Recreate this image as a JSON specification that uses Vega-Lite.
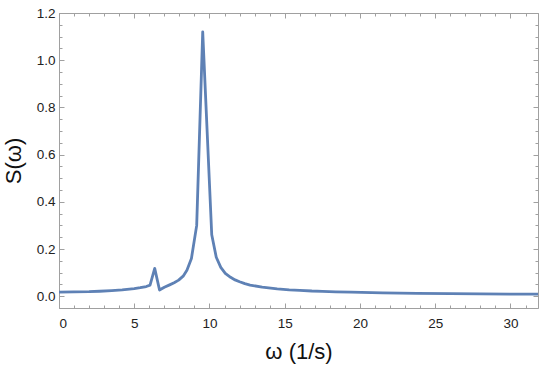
{
  "$schema": "https://vega.github.io/schema/vega-lite/v6.json",
  "width": 479,
  "height": 295,
  "autosize": {"type": "none"},
  "padding": {"left": 59, "top": 13, "right": 12, "bottom": 67},
  "background": "white",
  "config": {
    "view": {"stroke": null},
    "axis": {
      "grid": false,
      "domainColor": "#a0a0a0",
      "tickColor": "#a0a0a0",
      "domainWidth": 1,
      "tickWidth": 1,
      "labelFont": "Liberation Sans",
      "labelFontSize": 13.5,
      "labelColor": "#222222",
      "titleFont": "Liberation Sans",
      "titleFontSize": 22,
      "titleFontWeight": "normal",
      "titleColor": "#111111"
    }
  },
  "data": {
    "values": [
      {"w": 0, "S": 0.017},
      {"w": 1, "S": 0.018},
      {"w": 2, "S": 0.019},
      {"w": 2.7, "S": 0.021},
      {"w": 3.5, "S": 0.024},
      {"w": 4.2, "S": 0.027},
      {"w": 5, "S": 0.032},
      {"w": 5.4, "S": 0.036},
      {"w": 5.8, "S": 0.041},
      {"w": 6.05, "S": 0.047},
      {"w": 6.36, "S": 0.118},
      {"w": 6.68, "S": 0.026},
      {"w": 7.0, "S": 0.038},
      {"w": 7.35, "S": 0.048},
      {"w": 7.65, "S": 0.057},
      {"w": 7.95, "S": 0.068},
      {"w": 8.25, "S": 0.085},
      {"w": 8.5, "S": 0.11},
      {"w": 8.8, "S": 0.16},
      {"w": 9.15, "S": 0.3},
      {"w": 9.55, "S": 1.12},
      {"w": 10.15, "S": 0.26},
      {"w": 10.45, "S": 0.165},
      {"w": 10.75, "S": 0.122},
      {"w": 11.05, "S": 0.097},
      {"w": 11.4, "S": 0.08},
      {"w": 11.7, "S": 0.069},
      {"w": 12.0, "S": 0.061},
      {"w": 12.35, "S": 0.053},
      {"w": 12.7, "S": 0.047},
      {"w": 13.5, "S": 0.038},
      {"w": 14.5, "S": 0.031},
      {"w": 15.3, "S": 0.027},
      {"w": 16, "S": 0.025},
      {"w": 16.8, "S": 0.022},
      {"w": 17.5, "S": 0.0205},
      {"w": 18.4, "S": 0.0185},
      {"w": 19.4, "S": 0.017},
      {"w": 21.5, "S": 0.014},
      {"w": 23.8, "S": 0.012},
      {"w": 26, "S": 0.0105},
      {"w": 28, "S": 0.0095},
      {"w": 30, "S": 0.009},
      {"w": 31.83, "S": 0.0085}
    ]
  },
  "encoding": {
    "x": {"field": "w", "type": "quantitative", "scale": {"domain": [0, 31.83], "nice": false, "zero": false}},
    "y": {"field": "S", "type": "quantitative", "scale": {"domain": [-0.05, 1.2], "nice": false, "zero": false}}
  },
  "layer": [
    {
      "mark": {"type": "line", "opacity": 0},
      "encoding": {
        "x": {"field": "w", "type": "quantitative", "axis": {"orient": "bottom", "values": [0,1,2,3,4,5,6,7,8,9,10,11,12,13,14,15,16,17,18,19,20,21,22,23,24,25,26,27,28,29,30,31], "labels": false, "title": null, "tickSize": -3, "domain": false}},
        "y": {"field": "S", "type": "quantitative", "axis": {"orient": "left", "values": [-0.05,0,0.05,0.1,0.15,0.2,0.25,0.3,0.35,0.4,0.45,0.5,0.55,0.6,0.65,0.7,0.75,0.8,0.85,0.9,0.95,1.0,1.05,1.1,1.15,1.2], "labels": false, "title": null, "tickSize": -3, "domain": false}}
      }
    },
    {
      "mark": {"type": "line", "opacity": 0},
      "encoding": {
        "x": {"field": "w", "type": "quantitative", "axis": {"orient": "top", "values": [0,1,2,3,4,5,6,7,8,9,10,11,12,13,14,15,16,17,18,19,20,21,22,23,24,25,26,27,28,29,30,31], "labels": false, "title": null, "tickSize": -3, "domain": true}},
        "y": {"field": "S", "type": "quantitative", "axis": {"orient": "right", "values": [-0.05,0,0.05,0.1,0.15,0.2,0.25,0.3,0.35,0.4,0.45,0.5,0.55,0.6,0.65,0.7,0.75,0.8,0.85,0.9,0.95,1.0,1.05,1.1,1.15,1.2], "labels": false, "title": null, "tickSize": -3, "domain": true}}
      }
    },
    {
      "mark": {"type": "line", "opacity": 0},
      "encoding": {
        "x": {"field": "w", "type": "quantitative", "axis": {"orient": "top", "values": [0,5,10,15,20,25,30], "labels": false, "title": null, "tickSize": -5, "domain": false}},
        "y": {"field": "S", "type": "quantitative", "axis": {"orient": "right", "values": [0,0.2,0.4,0.6,0.8,1.0,1.2], "labels": false, "title": null, "tickSize": -5, "domain": false}}
      }
    },
    {
      "mark": {"type": "line", "color": "#5E81B5", "strokeWidth": 2.8, "strokeJoin": "round"},
      "encoding": {
        "x": {"field": "w", "type": "quantitative", "axis": {"orient": "bottom", "values": [0,5,10,15,20,25,30], "title": "ω (1/s)", "tickSize": -5, "labelPadding": 13, "titlePadding": 12, "domain": true}},
        "y": {"field": "S", "type": "quantitative", "axis": {"orient": "left", "values": [0,0.2,0.4,0.6,0.8,1.0,1.2], "format": ".1f", "title": "S(ω)", "tickSize": -5, "labelPadding": 9, "titlePadding": 11, "domain": true}}
      }
    }
  ],
  "resolve": {"axis": {"x": "independent", "y": "independent"}}
}
